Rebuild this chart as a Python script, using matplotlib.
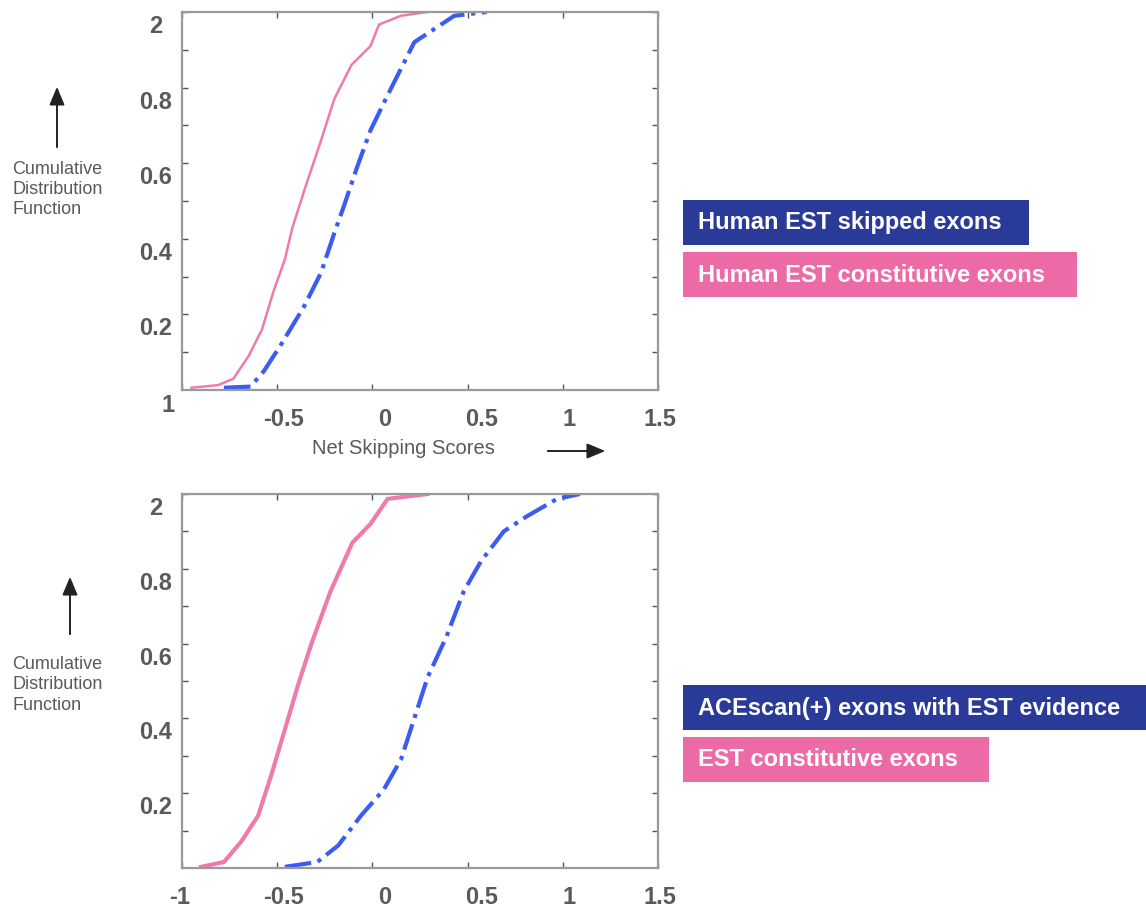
import numpy as np
import matplotlib
matplotlib.use("Agg")
import matplotlib.pyplot as plt
from matplotlib.patches import Rectangle, FancyArrowPatch
from matplotlib.transforms import ScaledTranslation

plt.rcParams["font.family"] = ["Liberation Sans", "DejaVu Sans"]

# CDF curves (x = net skipping score, y = cumulative fraction)
top_const_x = [-0.95, -0.81, -0.73, -0.65, -0.58, -0.52, -0.46, -0.42, -0.35, -0.27, -0.20, -0.11, -0.01, 0.035, 0.15, 0.29]
top_const_y = [0.006, 0.013, 0.03, 0.09, 0.16, 0.26, 0.345, 0.43, 0.54, 0.66, 0.77, 0.86, 0.91, 0.967, 0.99, 1.0]
top_skip_x = [-0.78, -0.64, -0.57, -0.48, -0.36, -0.27, -0.20, -0.15, -0.08, -0.01, 0.08, 0.15, 0.22, 0.34, 0.43, 0.60]
top_skip_y = [0.006, 0.009, 0.05, 0.12, 0.22, 0.31, 0.415, 0.486, 0.59, 0.687, 0.78, 0.85, 0.92, 0.96, 0.99, 1.0]

bot_const_x = [-0.90, -0.78, -0.69, -0.60, -0.53, -0.46, -0.39, -0.32, -0.22, -0.105, -0.01, 0.08, 0.29]
bot_const_y = [0.003, 0.016, 0.07, 0.14, 0.25, 0.37, 0.49, 0.60, 0.74, 0.87, 0.92, 0.987, 1.0]
bot_ace_x = [-0.46, -0.29, -0.18, -0.06, 0.06, 0.15, 0.22, 0.29, 0.39, 0.48, 0.57, 0.69, 0.81, 0.97, 1.09]
bot_ace_y = [0.003, 0.016, 0.06, 0.14, 0.21, 0.29, 0.40, 0.51, 0.62, 0.74, 0.82, 0.90, 0.94, 0.987, 1.0]

x_ticks = [-1, -0.5, 0, 0.5, 1, 1.5]
top_xlabels = ["1", "-0.5", "0", "0.5", "1", "1.5"]
bot_xlabels = ["-1", "-0.5", "0", "0.5", "1", "1.5"]
y_ticks = [0.2, 0.4, 0.6, 0.8, 1.0]
y_labels = ["0.2", "0.4", "0.6", "0.8", "2"]

top_legend = ["Human EST skipped exons", "Human EST constitutive exons"]
bot_legend = ["ACEscan(+) exons with EST evidence", "EST constitutive exons"]

PINK = "#F07BAA"
BLUE = "#3A5CF0"
NAVY = "#2A3A98"
BOXPINK = "#EC6BA6"
GREY = "#5a5a5a"
SPINE = "#9a9a9a"

W, H = 1146, 911
fig = plt.figure(figsize=(W / 100, H / 100), dpi=100)


def px(x, y):
    return x / W, 1 - y / H


def style_axes(ax, xlabels, xoffs):
    ax.set_xlim(-1, 1.5)
    ax.set_ylim(0, 1)
    for s in ax.spines.values():
        s.set_color(SPINE)
        s.set_linewidth(1.6)
    ax.set_xticks(x_ticks)
    ax.set_xticklabels(xlabels)
    ax.set_yticks(y_ticks)
    ax.set_yticklabels(y_labels)
    ax.set_yticks(np.arange(0.1, 1.0, 0.1), minor=True)
    ax.tick_params(which="both", direction="in", top=True, right=True,
                   color="#555555", length=4, width=1)
    ax.tick_params(axis="x", pad=13)
    ax.tick_params(axis="y", pad=19)
    for lbl in ax.get_xticklabels() + ax.get_yticklabels():
        lbl.set_fontsize(17)
        lbl.set_fontweight("bold")
        lbl.set_color(GREY)
    for lbl, dx in zip(ax.get_xticklabels(), xoffs):
        lbl.set_transform(lbl.get_transform() + ScaledTranslation(dx / 100, 0, fig.dpi_scale_trans))
    for lbl in ax.get_yticklabels():
        lbl.set_horizontalalignment("center")
        lbl.set_transform(lbl.get_transform() + ScaledTranslation(0, -12 / 100, fig.dpi_scale_trans))


def legend_boxes(labels, y0, widths):
    for i, (lab, w) in enumerate(zip(labels, widths)):
        color = NAVY if i == 0 else BOXPINK
        top = y0 + i * 52
        x0, y1 = px(683, top + 45)
        rect = Rectangle((x0, y1), w / W, 45 / H, transform=fig.transFigure,
                         facecolor=color, edgecolor="none")
        fig.add_artist(rect)
        tx, ty = px(698, top + 23)
        fig.text(tx, ty, lab, color="white", fontsize=17, fontweight="bold",
                 va="center", ha="left")


def arrow(p0, p1):
    fig.add_artist(FancyArrowPatch(
        p0, p1, transform=fig.transFigure,
        arrowstyle="-|>,head_length=5.5,head_width=2.3", color="#222222",
        linewidth=1.4, mutation_scale=2))


def cdf_annot(x, y_tail, y_head, ty):
    arrow(px(x, y_tail), px(x, y_head))
    tx, tyy = px(12, ty)
    fig.text(tx, tyy, "Cumulative\nDistribution\nFunction", fontsize=13,
             color=GREY, va="top", ha="left", linespacing=1.25)


# top panel
l, b = px(182, 390)
ax1 = fig.add_axes([l, b, (658 - 182) / W, (390 - 12) / H])
ax1.plot(top_const_x, top_const_y, color=PINK, linewidth=1.8)
ax1.plot(top_skip_x, top_skip_y, color=BLUE, linewidth=3, linestyle="-.")
style_axes(ax1, top_xlabels, [-14, 6, 12, 14, 6, 2])
first = ax1.get_xticklabels()[0]
first.set_transform(first.get_transform() + ScaledTranslation(0, 14 / 100, fig.dpi_scale_trans))

# bottom panel
l, b = px(182, 868)
ax2 = fig.add_axes([l, b, (658 - 182) / W, (868 - 494) / H])
ax2.plot(bot_const_x, bot_const_y, color=PINK, linewidth=3)
ax2.plot(bot_ace_x, bot_ace_y, color=BLUE, linewidth=3, linestyle="-.")
style_axes(ax2, bot_xlabels, [-2, 6, 12, 14, 6, 2])

# axis annotations
cdf_annot(57, 150, 84, 161)
cdf_annot(70, 637, 574, 656)
tx, ty = px(403, 449)
fig.text(tx, ty, "Net Skipping Scores", fontsize=14.5, color=GREY, ha="center", va="center")
arrow(px(545, 451), px(608, 451))

legend_boxes(top_legend, 200, [346, 394])
legend_boxes(bot_legend, 685, [470, 306])

fig.savefig("out.png", dpi=100)
